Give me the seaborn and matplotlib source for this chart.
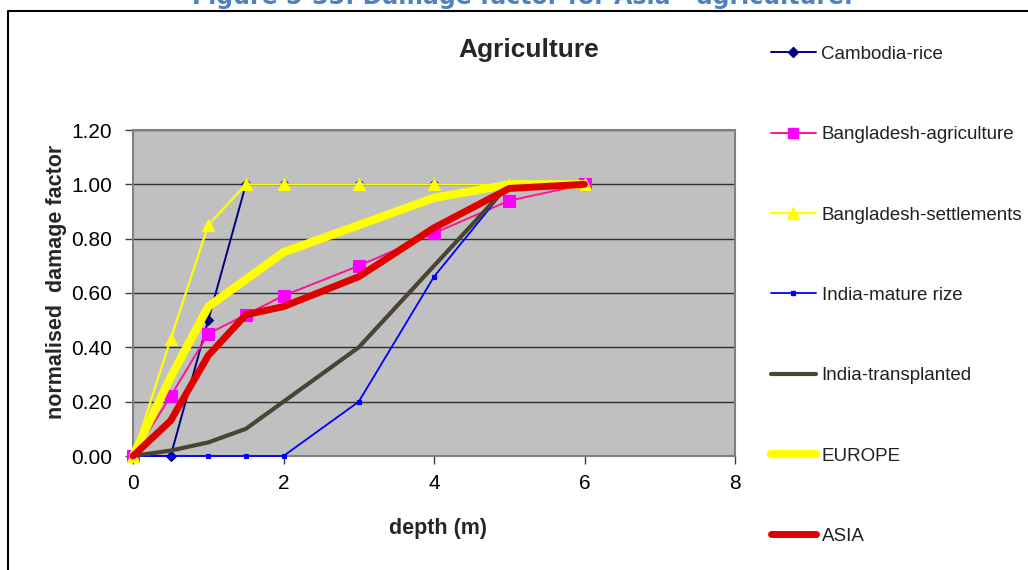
import pandas as pd
import matplotlib.pyplot as plt
import matplotlib.ticker as ticker
from matplotlib.lines import Line2D
import seaborn as sns

# ── Data ─────────────────────────────────────────────────────────────────────
depth = [0, 0.5, 1, 1.5, 2, 3, 4, 5, 6]

cambodia_rice = [0, 0, 0.50, 1.00, 1.00, 1.00, 1.00, 1.00, 1.00]
bangladesh_agri = [0, 0.22, 0.45, 0.52, 0.59, 0.70, 0.82, 0.94, 1.00]
bangladesh_settl = [0, 0.43, 0.85, 1.00, 1.00, 1.00, 1.00, 1.00, 1.00]
india_mature = [0, 0, 0, 0, 0, 0.20, 0.66, 1.00, 1.00]
india_transpl = [0, 0.02, 0.05, 0.10, 0.20, 0.40, 0.70, 1.00, 1.00]
europe = [0, 0.29, 0.55, 0.65, 0.75, 0.85, 0.95, 1.00, 1.00]
asia = [0, 0.13, 0.37, 0.52, 0.55, 0.66, 0.84, 0.985, 1.00]

series_names = ['Cambodia-rice', 'Bangladesh-agriculture', 'Bangladesh-settlements',
                'India-mature rize', 'India-transplanted', 'EUROPE', 'ASIA']
series_values = [cambodia_rice, bangladesh_agri, bangladesh_settl,
                 india_mature, india_transpl, europe, asia]

y_ticks = [0, 0.2, 0.4, 0.6, 0.8, 1.0, 1.2]
x_ticks = [0, 2, 4, 6, 8]

# ── Style ────────────────────────────────────────────────────────────────────
sns.set_theme(style="white")
plt.rcParams['font.family'] = ['Liberation Sans', 'DejaVu Sans']

styles = {
    'Cambodia-rice':          dict(color='#000080', lw=1.4, marker='D', ms=5.5, mfc='#000080', mec='#000080'),
    'Bangladesh-agriculture': dict(color='#FF1493', lw=1.4, marker='s', ms=8.5, mfc='#FF00FF', mec='#FF00FF'),
    'Bangladesh-settlements': dict(color='#FFFF00', lw=1.6, marker='^', ms=9, mfc='#FFFF00', mec='#FFFF00'),
    'India-mature rize':      dict(color='#0000FF', lw=1.3, marker='s', ms=3.5, mfc='#0000FF', mec='#0000FF'),
    'India-transplanted':     dict(color='#4A4532', lw=3.0, marker=None),
    'EUROPE':                 dict(color='#FFFF00', lw=6.0, marker=None),
    'ASIA':                   dict(color='#E00000', lw=5.0, marker=None),
}

fig = plt.figure(figsize=(10.28, 5.70), dpi=100)
fig.patch.set_facecolor('white')
ax = fig.add_axes([133 / 1028, 114 / 570, 602 / 1028, 326 / 570])
ax.set_facecolor('#C0C0C0')

handles = []
for name, vals in zip(series_names, series_values):
    st = styles[name]
    df = pd.DataFrame({'depth': depth, 'value': vals})
    sns.lineplot(data=df, x='depth', y='value', ax=ax, color=st['color'],
                 linewidth=st['lw'], marker=st['marker'],
                 markersize=st.get('ms', 0), markerfacecolor=st.get('mfc'),
                 markeredgecolor=st.get('mec'), markeredgewidth=0.8,
                 clip_on=False, zorder=3, label=name, legend=False)
    handles.append(Line2D([], [], color=st['color'], lw=st['lw'],
                          marker=st['marker'], ms=st.get('ms', 0) * 0.9,
                          mfc=st.get('mfc'), mec=st.get('mec'),
                          solid_capstyle='round'))

ax.set_xlim(0, 8)
ax.set_ylim(0, 1.2)
ax.set_xticks(x_ticks)
ax.set_yticks(y_ticks)
ax.yaxis.set_major_formatter(ticker.FuncFormatter(lambda v, _: f'{v:.2f}'))
ax.tick_params(axis='both', direction='out', length=6, width=1, color='#404040',
               labelsize=15, labelcolor='black', left=True, bottom=True)
ax.tick_params(axis='y', pad=9)
ax.tick_params(axis='x', pad=7)
ax.yaxis.grid(True, color='#303030', linewidth=1)
ax.xaxis.grid(False)
ax.set_axisbelow(True)
for sp in ax.spines.values():
    sp.set_color('#808080')
    sp.set_linewidth(1.5)

ax.set_xlabel('depth (m)', fontsize=15.5, fontweight='bold', labelpad=18)
ax.set_ylabel('normalised  damage factor', fontsize=15.5, fontweight='bold', labelpad=3)
ax.yaxis.label.set_y(0.535)
ax.xaxis.label.set_x(0.507)

fig.text(529 / 1028, 1 - 50 / 570, 'Agriculture', fontsize=19, fontweight='bold',
         ha='center', va='center')

# caption cut off at the top of the picture
fig.text(522 / 1028, 1 - 4 / 570, 'Figure 5-33: Damage factor for Asia - agriculture.',
         fontsize=17, fontweight='bold', color='#4F81BD', ha='center', va='baseline',
         family='DejaVu Sans')

# outer frame (left and top edges only visible)
fig.add_artist(Line2D([8 / 1028, 8 / 1028, 1.0], [0, 1 - 11 / 570, 1 - 11 / 570],
                      transform=fig.transFigure, color='black', lw=1.5))

fig.legend(handles, series_names, loc='upper left',
           bbox_to_anchor=(754 / 1028, 1 - 29 / 570), frameon=False,
           fontsize=13.5, labelspacing=3.37, handlelength=2.4,
           handletextpad=0.3, numpoints=1, labelcolor='#202020')

plt.savefig('out.png', dpi=100, facecolor='white')
